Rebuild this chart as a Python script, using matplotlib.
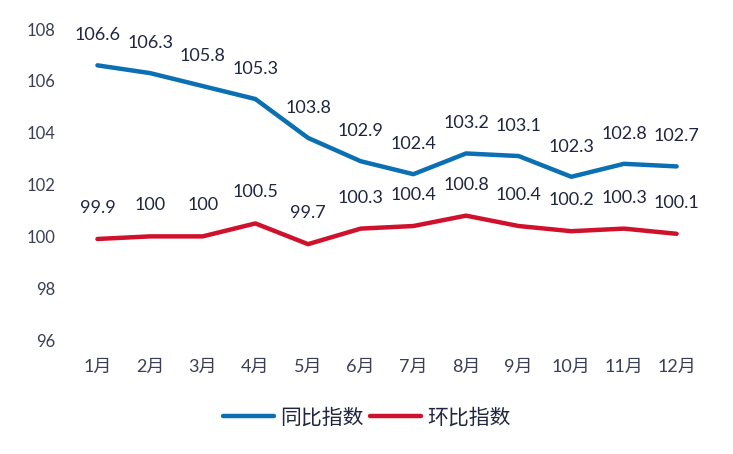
import matplotlib
matplotlib.use('Agg')
import matplotlib.pyplot as plt

plt.rcParams['font.family'] = ['Lato', 'Noto Sans CJK SC', 'DejaVu Sans']

months = ['1月', '2月', '3月', '4月', '5月', '6月', '7月', '8月', '9月', '10月', '11月', '12月']
yoy = [106.6, 106.3, 105.8, 105.3, 103.8, 102.9, 102.4, 103.2, 103.1, 102.3, 102.8, 102.7]
mom = [99.9, 100, 100, 100.5, 99.7, 100.3, 100.4, 100.8, 100.4, 100.2, 100.3, 100.1]
yoy_labels = ['106.6', '106.3', '105.8', '105.3', '103.8', '102.9', '102.4', '103.2', '103.1', '102.3', '102.8', '102.7']
mom_labels = ['99.9', '100', '100', '100.5', '99.7', '100.3', '100.4', '100.8', '100.4', '100.2', '100.3', '100.1']

blue = '#0b6fb3'
red = '#d0112b'
text_color = '#1f2640'

fig = plt.figure(figsize=(7.33, 4.54), dpi=100)
ax = fig.add_axes([0.097, 0.251, 0.862, 0.685])

x = list(range(len(months)))
ax.plot(x, yoy, color=blue, linewidth=3.2, solid_capstyle='round', label='同比指数')
ax.plot(x, mom, color=red, linewidth=3.2, solid_capstyle='round', label='环比指数')

# подписи значений над точками
for i in x:
    ax.annotate(yoy_labels[i], (i, yoy[i]), xytext=(0, 30), textcoords='offset pixels',
                ha='center', va='center', fontsize=13, color=text_color)
    ax.annotate(mom_labels[i], (i, mom[i]), xytext=(0, 31), textcoords='offset pixels',
                ha='center', va='center', fontsize=13, color=text_color)

ax.set_xlim(-0.5, 11.5)
ax.set_ylim(96, 108)
ax.set_yticks([96, 98, 100, 102, 104, 106, 108])
ax.set_xticks(x)
ax.set_xticklabels(months)
ax.tick_params(axis='both', length=0, colors='#3a3f55')
ax.tick_params(axis='x', pad=13.5, labelsize=13)
ax.tick_params(axis='y', pad=11.5, labelsize=12)
for s in ax.spines.values():
    s.set_visible(False)

fig.legend(loc='center', bbox_to_anchor=(0.5, 0.080), ncol=2, frameon=False,
           fontsize=15, handlelength=2.45, handletextpad=0.3, columnspacing=0.3,
           labelcolor=text_color)

fig.savefig('out.png', dpi=100, facecolor='white')
